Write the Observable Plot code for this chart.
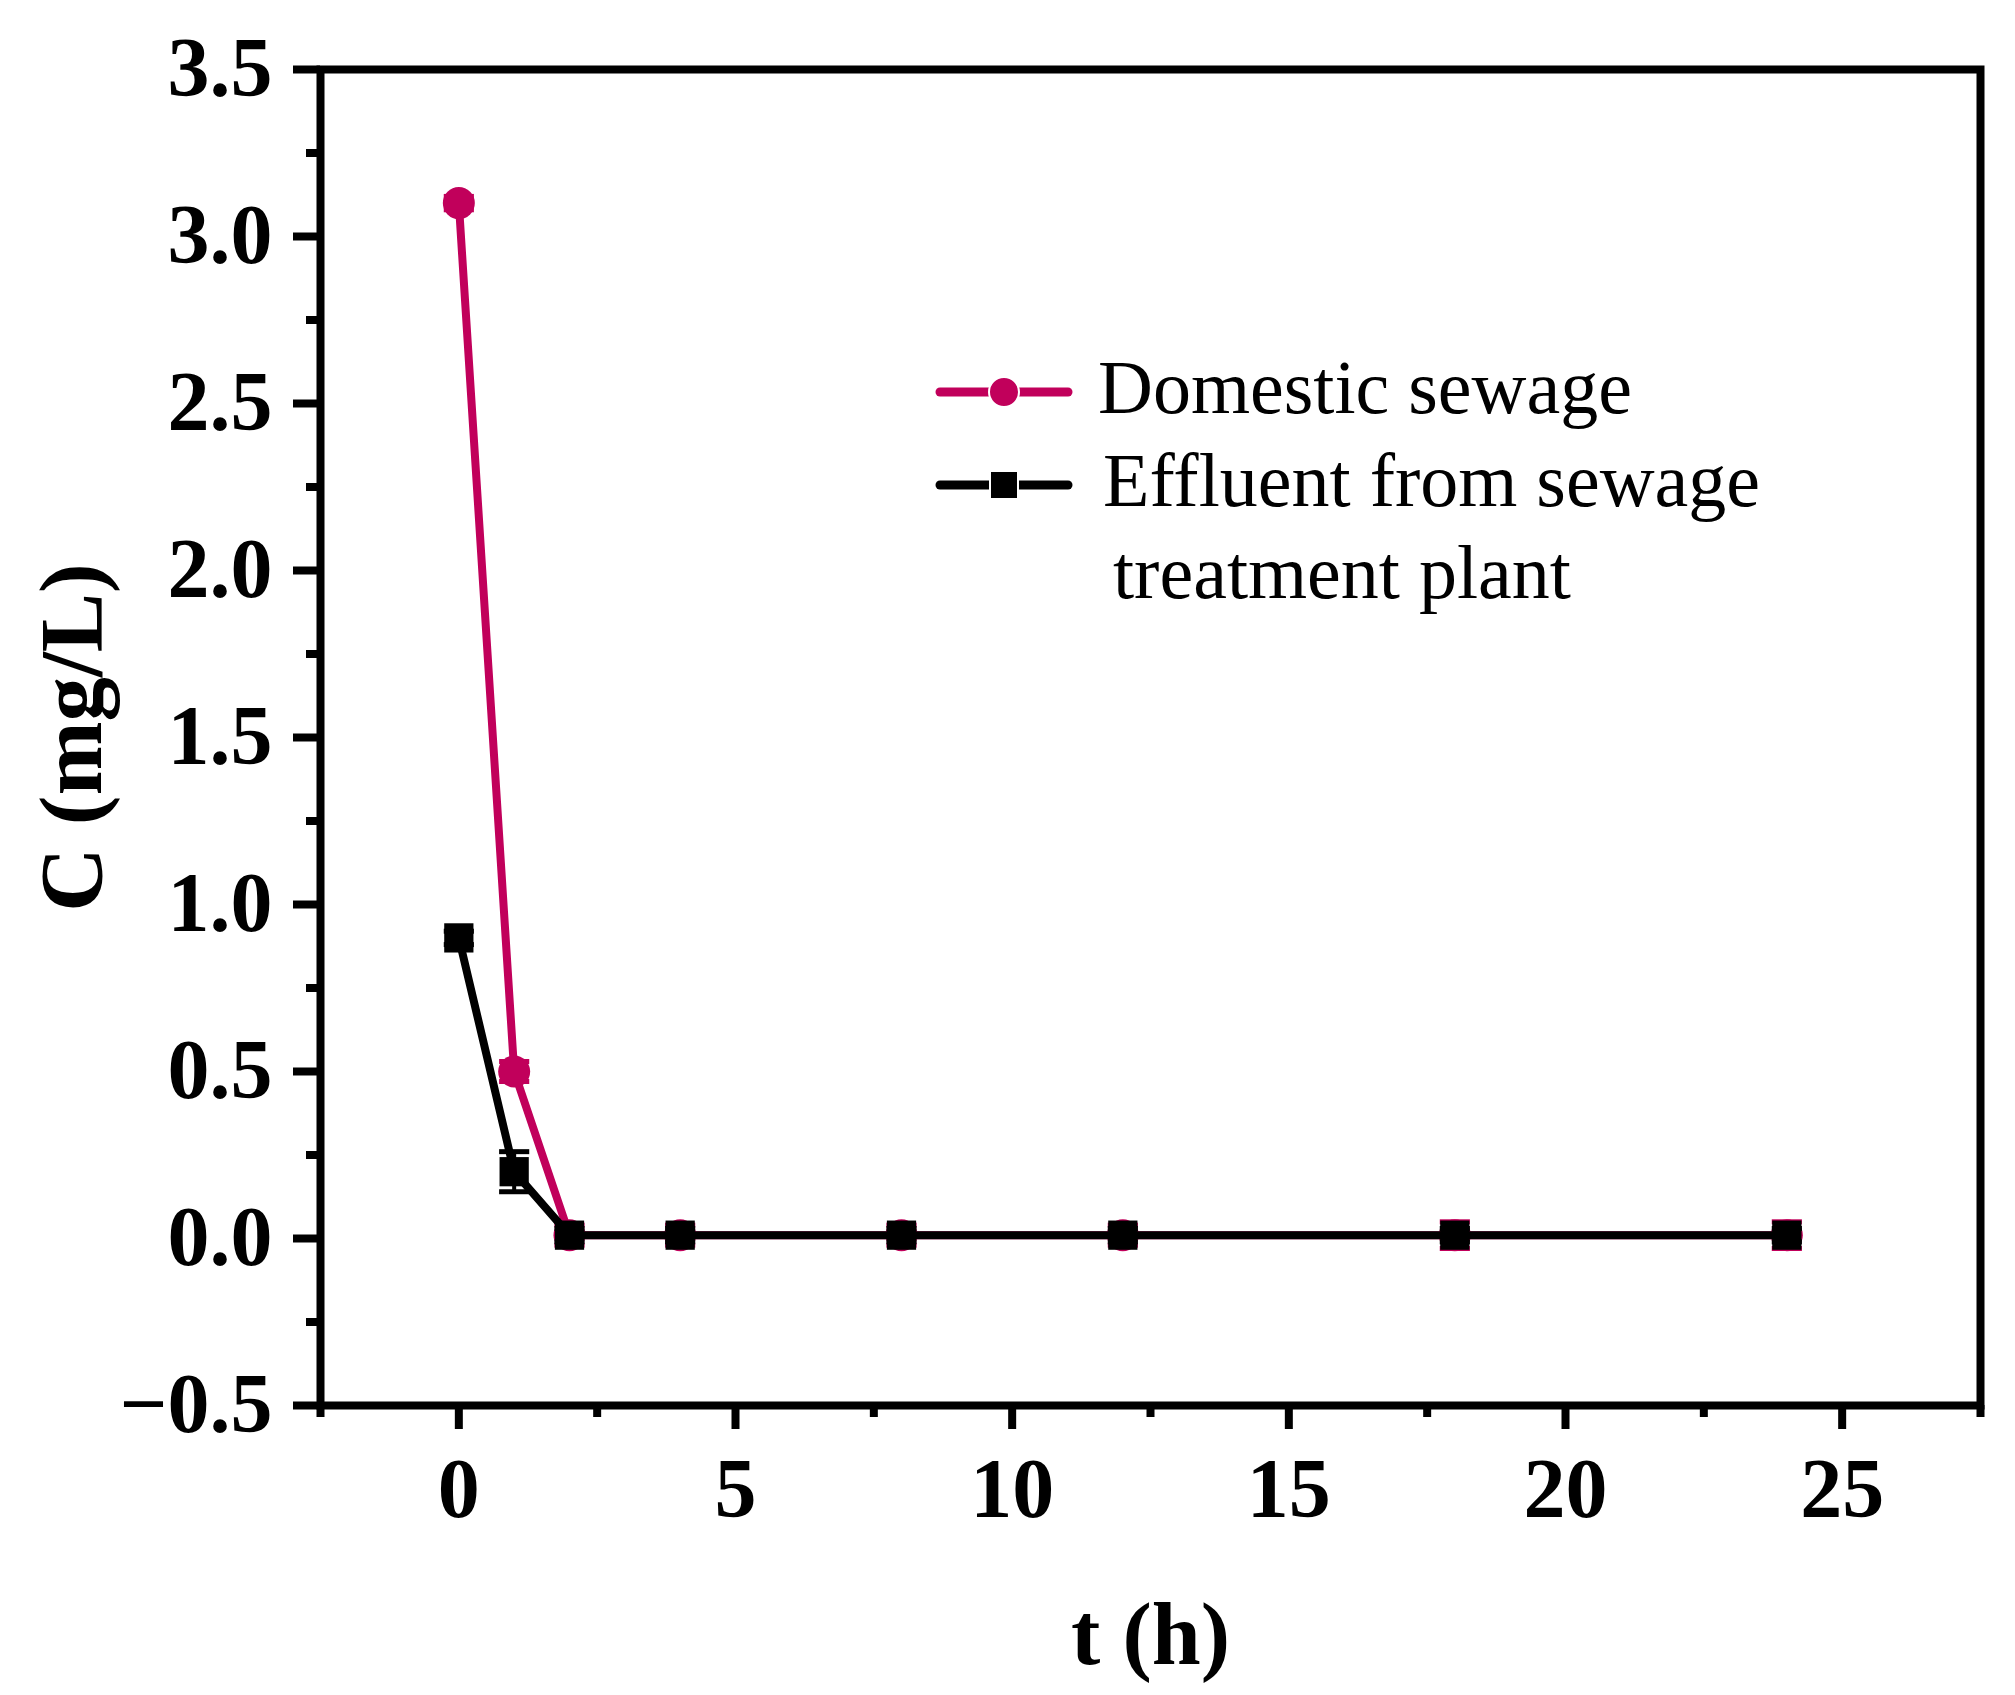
<!DOCTYPE html>
<html>
<head>
<meta charset="utf-8">
<script src="https://cdn.jsdelivr.net/npm/d3@7"></script>
<script src="https://cdn.jsdelivr.net/npm/@observablehq/plot@0.6"></script>
<style>
  html, body { margin: 0; padding: 0; background: #fff; }
  #wrap { position: relative; width: 2015px; height: 1695px; }
  #legend { position: absolute; left: 0; top: 0; pointer-events: none; }
</style>
</head>
<body>
<div id="wrap"></div>
<script>
// ---- data ----
const times = [0, 1, 2, 4, 8, 12, 18, 24];
const seriesNames = ["Domestic sewage", "Effluent from sewage", "treatment plant"];
const domestic = [3.10, 0.50, 0.01, 0.01, 0.01, 0.01, 0.01, 0.01];
const domesticErr = [0.02, 0.03, 0.03, 0.03, 0.03, 0.03, 0.04, 0.04];
const effluent = [0.90, 0.20, 0.01, 0.01, 0.01, 0.01, 0.01, 0.01];
const effluentErr = [0.02, 0.06, 0.02, 0.02, 0.02, 0.02, 0.02, 0.02];
const xTicks = [0, 5, 10, 15, 20, 25];
const xMinor = [-2.5, 2.5, 7.5, 12.5, 17.5, 22.5, 27.5];
const yTicks = [-0.5, 0, 0.5, 1, 1.5, 2, 2.5, 3, 3.5];
const yMinor = [-0.25, 0.25, 0.75, 1.25, 1.75, 2.25, 2.75, 3.25];

const PINK = "#C1005B";
const FONT = "Liberation Serif, Times New Roman, serif";

const dom = times.map((t, i) => ({t, v: domestic[i], e: domesticErr[i]}));
const eff = times.map((t, i) => ({t, v: effluent[i], e: effluentErr[i]}));

const capSymbol = {
  draw(ctx, size) {
    const w = Math.sqrt(size) / 2;
    ctx.moveTo(-w, 0);
    ctx.lineTo(w, 0);
  }
};

const chart = Plot.plot({
  width: 2015,
  height: 1695,
  marginLeft: 320,
  marginRight: 35,
  marginTop: 69,
  marginBottom: 290,
  style: {fontFamily: FONT, background: "white", color: "black", overflow: "visible"},
  x: {domain: [-2.5, 27.5]},
  y: {domain: [-0.5, 3.5]},
  marks: [
    // minor ticks
    Plot.axisY({ticks: yMinor, tickSize: 14, strokeWidth: 8, text: null, label: null}),
    Plot.axisX({ticks: xMinor, tickSize: 12, strokeWidth: 8, text: null, label: null}),
    // major ticks
    Plot.axisY({ticks: yTicks, tickSize: 27, tickPadding: 21, strokeWidth: 8,
      tickFormat: d3.format(".1f"), fontSize: 84, fontWeight: "bold", fontFamily: FONT, label: null}),
    Plot.axisX({ticks: xTicks, tickSize: 24, tickPadding: 28, strokeWidth: 8,
      tickFormat: d3.format("d"), fontSize: 84, fontWeight: "bold", fontFamily: FONT, label: null}),
    // titles
    Plot.text(["C (mg/L)"], {frameAnchor: "left", dx: -220, rotate: -90, lineAnchor: "bottom",
      textAnchor: "middle", fontSize: 89, fontWeight: "bold", fontFamily: FONT, fill: "black"}),
    Plot.text(["t (h)"], {frameAnchor: "bottom", dy: 258, lineAnchor: "bottom",
      textAnchor: "middle", fontSize: 88, fontWeight: "bold", fontFamily: FONT, fill: "black"}),
    // domestic sewage
    Plot.ruleX(dom, {x: "t", y1: d => d.v - d.e, y2: d => d.v + d.e, stroke: PINK, strokeWidth: 4}),
    Plot.dot(dom, {x: "t", y: d => d.v - d.e, symbol: capSymbol, r: 17, stroke: PINK, strokeWidth: 5}),
    Plot.dot(dom, {x: "t", y: d => d.v + d.e, symbol: capSymbol, r: 17, stroke: PINK, strokeWidth: 5}),
    Plot.line(dom, {x: "t", y: "v", stroke: PINK, strokeWidth: 8}),
    Plot.dot(dom, {x: "t", y: "v", r: 16, fill: PINK, stroke: null}),
    // effluent
    Plot.ruleX(eff, {x: "t", y1: d => d.v - d.e, y2: d => d.v + d.e, stroke: "black", strokeWidth: 4}),
    Plot.dot(eff, {x: "t", y: d => d.v - d.e, symbol: capSymbol, r: 17, stroke: "black", strokeWidth: 5}),
    Plot.dot(eff, {x: "t", y: d => d.v + d.e, symbol: capSymbol, r: 17, stroke: "black", strokeWidth: 5}),
    Plot.line(eff, {x: "t", y: "v", stroke: "black", strokeWidth: 8}),
    Plot.dot(eff, {x: "t", y: "v", symbol: "square", r: 16.5, fill: "black", stroke: null}),
    // frame box
    Plot.frame({stroke: "black", strokeWidth: 8})
  ]
});

const wrap = document.getElementById("wrap");
wrap.appendChild(chart);

// legend overlay (inside plot area, upper right)
const ns = "http://www.w3.org/2000/svg";
const lg = document.createElementNS(ns, "svg");
lg.setAttribute("id", "legend");
lg.setAttribute("width", 2015);
lg.setAttribute("height", 1695);
const sel = d3.select(lg);
const items = [
  {y: 392, color: PINK, shape: "circle", label: seriesNames[0], tx: 1098, ty: 413},
  {y: 485, color: "black", shape: "square", label: seriesNames[1], tx: 1103, ty: 506}
];
items.forEach(it => {
  sel.append("line").attr("x1", 940).attr("x2", 1068).attr("y1", it.y).attr("y2", it.y)
    .attr("stroke", it.color).attr("stroke-width", 9).attr("stroke-linecap", "round");
  if (it.shape === "circle") {
    sel.append("circle").attr("cx", 1004).attr("cy", it.y).attr("r", 15).attr("fill", it.color)
      .attr("stroke", "white").attr("stroke-width", 2);
  } else {
    sel.append("rect").attr("x", 990).attr("y", it.y - 14).attr("width", 28).attr("height", 28)
      .attr("fill", it.color).attr("stroke", "white").attr("stroke-width", 2);
  }
  sel.append("text").attr("x", it.tx).attr("y", it.ty).text(it.label)
    .attr("font-family", FONT).attr("font-size", 76).attr("fill", "black");
});
sel.append("text").attr("x", 1113).attr("y", 598).text(seriesNames[2])
  .attr("font-family", FONT).attr("font-size", 76).attr("fill", "black");
wrap.appendChild(lg);
</script>
</body>
</html>
